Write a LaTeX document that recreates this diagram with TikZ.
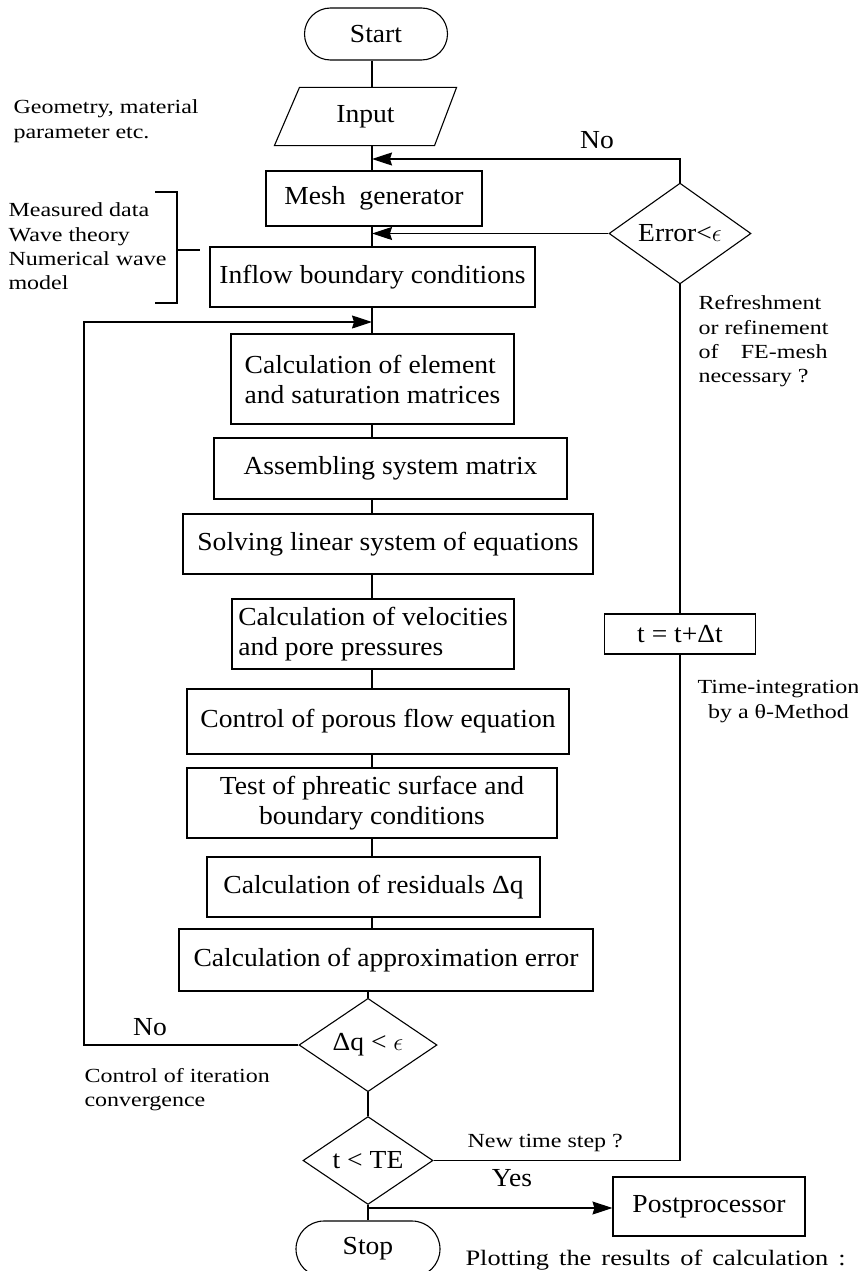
\documentclass[tikz,border=0pt]{standalone}
\usepackage{fontspec}
\setmainfont{Liberation Serif}[FakeStretch=1.06]
\newfontfamily\notefont{Liberation Serif}[FakeStretch=1.2]
\usetikzlibrary{shapes.geometric,shapes.misc,arrows.meta,calc}
\begin{document}
\begin{tikzpicture}[x=1pt,y=-1pt,
  line width=1.1pt,
  mainfont/.style={font=\fontsize{26}{30}\selectfont},
  box/.style={draw, rectangle, inner sep=0pt, mainfont, align=center},
  term/.style={draw, rounded rectangle, inner sep=0pt, mainfont},
  decision/.style={draw, diamond, inner sep=0pt, mainfont},
  note/.style={inner sep=0pt, anchor=west, font=\notefont\fontsize{20}{24.4}\selectfont, align=left},
  big/.style={inner sep=0pt, mainfont},
  arr/.style={-{Stealth[length=20pt,width=13pt,inset=2pt]}},
]
\useasboundingbox (0,0) rectangle (858,1271);

% main column
\node[term, minimum width=143pt, minimum height=52pt] (start) at (376,34) {Start};
\node[inner sep=0pt, minimum width=181pt, minimum height=57pt, mainfont] (input) at (365.5,116.5) {Input};
\draw (input.south west) -- ($(input.north west)+(25,0)$) -- (input.north east)
      -- ($(input.south east)+(-22,0)$) -- cycle;
\node[box, minimum width=216pt, minimum height=55pt] (mesh) at (374,198.5) {Mesh\ \ generator};
\node[box, minimum width=325pt, minimum height=60pt] (inflow) at (372.5,277) {Inflow boundary conditions};
\node[box, minimum width=283pt, minimum height=90pt, align=left] (elem) at (372.5,379)
  {Calculation of element\\and saturation matrices};
\node[box, minimum width=353pt, minimum height=61pt] (assem) at (390.5,468.5) {Assembling system matrix};
\node[box, minimum width=410pt, minimum height=60pt] (solve) at (388,544) {Solving linear system of equations};
\node[box, minimum width=282pt, minimum height=70pt, align=left] (veloc) at (373,634)
  {Calculation of velocities\\and pore pressures};
\node[box, minimum width=382pt, minimum height=65pt] (control) at (378,721.5) {Control of porous flow equation};
\node[box, minimum width=370pt, minimum height=70pt] (test) at (372,803)
  {Test of phreatic surface and\\boundary conditions};
\node[box, minimum width=333pt, minimum height=60pt] (resid) at (373.5,887) {Calculation of residuals Δq};
\node[box, minimum width=414pt, minimum height=62pt] (approx) at (386,960) {Calculation of approximation error};
\node[decision, minimum width=138pt, minimum height=90pt] (dq) at (368,1045) {Δq < $\epsilon$};
\node[decision, minimum width=130pt, minimum height=85pt] (tte) at (368,1160.5) {t < TE};
\node[term, minimum width=144pt, minimum height=56pt] (stop) at (368,1249) {Stop};
\node[box, minimum width=192pt, minimum height=59pt] (post) at (709,1206.5) {Postprocessor};

% right column
\node[decision, minimum width=142pt, minimum height=93pt] (err) at (680,233.5) {Error<$\epsilon$};
\node[box, minimum width=151pt, minimum height=40pt] (tbox) at (680,634) {t = t+Δt};

% flow connectors
\coordinate (axis) at (372,0);
\foreach \a/\b in {start/input,input/mesh,mesh/inflow,inflow/elem,elem/assem,assem/solve,
                   solve/veloc,veloc/control,control/test,test/resid,resid/approx}
  \draw (\a.south -| axis) -- (\b.north -| axis);
\draw (approx.south -| dq.north) -- (dq.north);
\draw (dq.south) -- (tte.north);
\coordinate (split) at (368,1208);
\draw (tte.south) -- (split) -- (stop.north);
\draw[arr] (split) -- (split -| post.west);

% iteration loop
\coordinate (lc) at (84,322);
\coordinate (loopin) at (372,322);
\draw[arr] (dq.west) -| (lc) -- (loopin);

% time-step loop and mesh refinement
\draw (tte.east) -| (tbox.south);
\draw (tbox.north) -- (err.south);
\coordinate (backtop) at (680,159);
\coordinate (jtop) at (372,159);
\draw[arr] (err.north) -- (backtop) -- (jtop);
\draw[arr] (err.west) -- (err.west -| axis);

% bracket for the inflow data sources
\draw (155,192) -- (177,192) -- (177,303) -- (155,303);
\draw (177,250) -- (200,250);

% annotations
\node[note] (geo) at (13,121) {Geometry, material\\parameter etc.};
\node[note] (meas) at (8,246.5) {Measured data\\Wave theory\\Numerical wave\\model};
\node[note] (refr) at (698,341.5) {Refreshment\\or refinement\\\hbox to 129pt{of\hfill FE-mesh}\\necessary ?};
\node[note, align=center] (tint) at (697,701.5) {Time-integration\\by a θ-Method};
\node[note] (conv) at (84,1089.5) {Control of iteration\\convergence};
\node[note] (newt) at (467,1143) {New time step ?};
\node[big] (yes) at (512,1178) {Yes};
\node[big] (no1) at (597,140) {No};
\node[big] (no2) at (150,1027) {No};
\node[note, anchor=base west, font=\notefont\fontsize{22}{26}\selectfont] (plot) at (465,1265)
  {\makebox[380pt][s]{Plotting the results of calculation :}};
\end{tikzpicture}
\end{document}
